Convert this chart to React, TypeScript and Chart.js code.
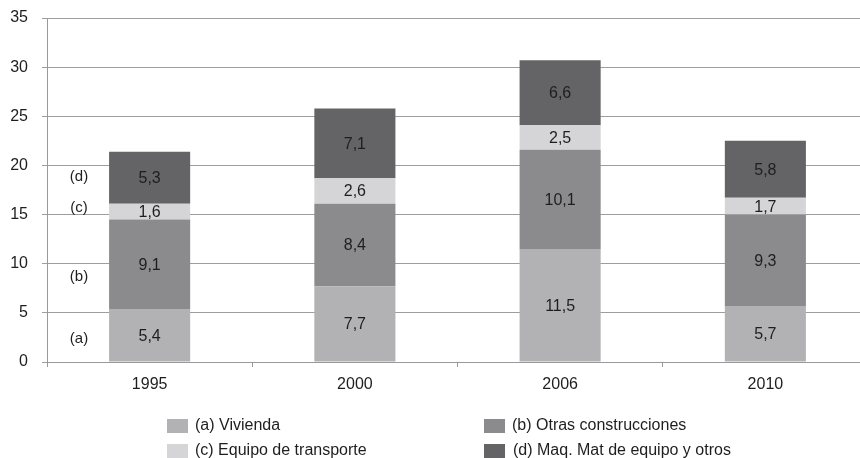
import React, { useEffect, useRef } from "react";
import { Chart, registerables } from "chart.js";

Chart.register(...registerables);

const categories = ["1995", "2000", "2006", "2010"];
const vivienda = [5.4, 7.7, 11.5, 5.7];
const otrasConstrucciones = [9.1, 8.4, 10.1, 9.3];
const equipoTransporte = [1.6, 2.6, 2.5, 1.7];
const maqEquipo = [5.3, 7.1, 6.6, 5.8];
const seriesNames = [
  "(a) Vivienda",
  "(b) Otras construcciones",
  "(c) Equipo de transporte",
  "(d) Maq. Mat de equipo y otros",
];
const seriesColors = ["#b2b2b4", "#8b8b8d", "#d5d5d7", "#646466"];
const sideLabels = ["(a)", "(b)", "(c)", "(d)"];
const sideLabelValues = [2.4, 8.7, 15.7, 18.8];
const yTicks = [0, 5, 10, 15, 20, 25, 30, 35];

const FONT = "'Liberation Sans', Arial, Helvetica, sans-serif";

const fmt = (v: number) => v.toFixed(1).replace(".", ",");

const overlayPlugin = {
  id: "overlay",
  afterDatasetsDraw(chart: any) {
    const ctx = chart.ctx;
    ctx.save();
    ctx.font = `16px ${FONT}`;
    ctx.fillStyle = "#1e1e1e";
    ctx.textAlign = "center";
    ctx.textBaseline = "middle";
    chart.data.datasets.forEach((ds: any, di: number) => {
      const meta = chart.getDatasetMeta(di);
      meta.data.forEach((bar: any, i: number) => {
        const v = ds.data[i];
        const yMid = (bar.y + bar.base) / 2;
        ctx.fillText(fmt(v), bar.x, yMid + 1);
      });
    });
    const yScale = chart.scales.y;
    ctx.font = `15px ${FONT}`;
    sideLabels.forEach((t, i) => {
      ctx.fillText(t, 79, yScale.getPixelForValue(sideLabelValues[i]));
    });
    ctx.restore();
  },
  afterDraw(chart: any) {
    const ctx = chart.ctx;
    ctx.save();
    ctx.font = `16px ${FONT}`;
    ctx.textBaseline = "middle";
    ctx.textAlign = "left";
    const cols = [167, 484];
    const rows = [426, 451];
    chart.data.datasets.forEach((ds: any, i: number) => {
      const x = cols[i % 2];
      const y = rows[Math.floor(i / 2)];
      ctx.fillStyle = ds.backgroundColor;
      ctx.fillRect(x, y - 7, 21, 14);
      ctx.fillStyle = "#1e1e1e";
      ctx.fillText(ds.label, x + 28 + (i === 3 ? 1 : 0), y);
    });
    ctx.restore();
  },
};

export default function App() {
  const ref = useRef<HTMLCanvasElement | null>(null);

  useEffect(() => {
    document.body.style.margin = "0";
    const canvas = ref.current;
    if (!canvas) return;
    const seriesValues = [vivienda, otrasConstrucciones, equipoTransporte, maqEquipo];
    const chart = new Chart(canvas, {
      type: "bar",
      data: {
        labels: categories,
        datasets: seriesValues.map((vals, i) => ({
          label: seriesNames[i],
          data: vals,
          backgroundColor: seriesColors[i],
          borderWidth: 0,
          barPercentage: 0.79,
          categoryPercentage: 0.5,
        })),
      },
      options: {
        animation: false,
        responsive: false,
        maintainAspectRatio: false,
        devicePixelRatio: 1,
        layout: { padding: { top: 18, right: 0, bottom: 56, left: 0 } },
        plugins: {
          legend: { display: false },
          tooltip: { enabled: false },
        },
        scales: {
          x: {
            stacked: true,
            offset: true,
            grid: {
              display: true,
              drawOnChartArea: false,
              drawTicks: true,
              tickLength: 5,
              color: "#999999",
              offset: true,
            },
            border: { display: true, color: "#999999", width: 1 },
            ticks: {
              font: { family: FONT, size: 16 },
              color: "#1e1e1e",
              padding: 8,
              maxRotation: 0,
            },
            afterFit: (scale: any) => {
              scale.height = 40;
              scale.paddingLeft = 0;
              scale.paddingRight = 0;
            },
          },
          y: {
            stacked: true,
            min: 0,
            max: 35,
            afterBuildTicks: (scale: any) => {
              scale.ticks = yTicks.map((v) => ({ value: v }));
            },
            grid: {
              color: "#9d9d9d",
              lineWidth: 1,
              tickLength: 5,
            },
            border: { display: true, color: "#999999", width: 1 },
            ticks: {
              font: { family: FONT, size: 16 },
              color: "#1e1e1e",
              padding: 14,
            },
            afterFit: (scale: any) => {
              scale.width = 47;
              scale.paddingTop = 0;
              scale.paddingBottom = 0;
            },
          },
        },
      },
      plugins: [overlayPlugin],
    });
    return () => chart.destroy();
  }, []);

  return (
    <div style={{ position: "absolute", left: 0, top: 0, width: 860, height: 458, overflow: "hidden" }}>
      <canvas ref={ref} width={868} height={458} style={{ width: 868, height: 458 }} />
    </div>
  );
}
